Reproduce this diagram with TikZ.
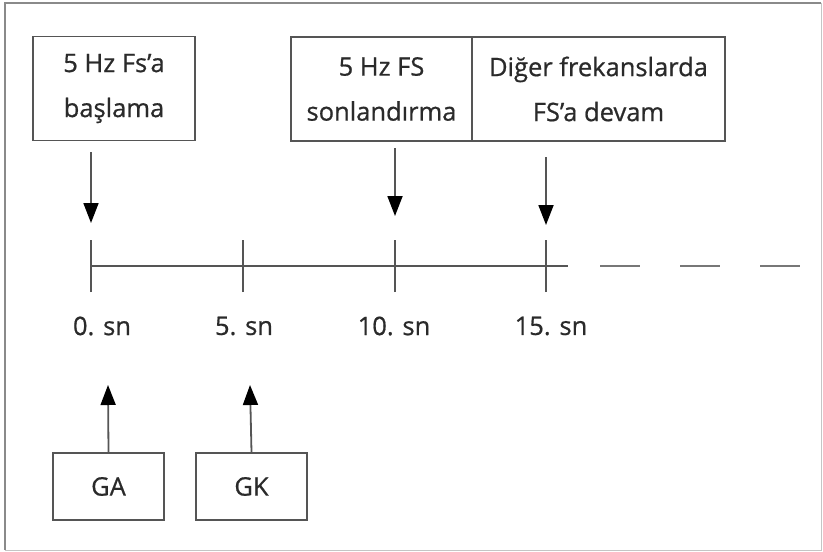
\documentclass[tikz,border=0pt]{standalone}
\usepackage{fontspec}
\setmainfont{Open Sans}[FakeBold=0.7]
\usetikzlibrary{arrows.meta}
\definecolor{linegray}{HTML}{555555}
\definecolor{framegray}{HTML}{8A8A8A}
\definecolor{inkgray}{HTML}{2A2A2A}
\tikzset{
  labelbox/.style={draw=linegray, line width=1.6pt, minimum height=104pt, inner sep=0pt, align=center, font=\fontsize{25.5}{45}\selectfont, text=inkgray},
  smallbox/.style={draw=linegray, line width=1.6pt, minimum width=111pt, minimum height=67pt, inner sep=0pt, font=\fontsize{25.5}{28}\selectfont, text=inkgray},
  ticklabel/.style={font=\fontsize{25.5}{28}\selectfont, text=inkgray, inner sep=0pt},
  pointer/.style={draw=linegray, line width=1.8pt, -{Triangle[width=15pt,length=20pt,color=black]}},
  axis/.style={draw=linegray, line width=1.6pt},
  tickmark/.style={draw=linegray, line width=1.6pt},
  future/.style={draw=linegray!80, line width=1.6pt, dash pattern=on 40pt off 40pt}
}
\begin{document}
\begin{tikzpicture}[x=1pt, y=-1pt]
  \useasboundingbox (0,0) rectangle (823,552);
  % outer frame
  \draw[framegray!50, line width=1pt] (821,2.5) -- (821,550) -- (4.5,550);
  \draw[framegray, line width=2pt] (4.5,550) -- (4.5,2.5) -- (821,2.5);

  % event boxes on top
  \node[labelbox, minimum width=162pt] (start) at (114,88.5) {5 Hz Fs’a\\başlama};
  \node[labelbox, minimum width=181pt] (stop) at (381.5,89) {5 Hz FS\\sonlandırma};
  \node[labelbox, minimum width=253pt] (cont) at (598.5,89) {Diğer frekanslarda\\FS’a devam};

  % time axis
  \coordinate (t0) at (91,266);
  \coordinate (t5) at (243,266);
  \coordinate (t10) at (395,266);
  \coordinate (t15) at (546,266);
  \coordinate (tend) at (568,266);
  \draw[axis] (t0) -- (tend);
  \draw[future] (600,266) -- (800,266);
  \foreach \t in {t0,t5,t10,t15}
    \draw[tickmark] ([yshift=-26pt]\t) -- ([yshift=26pt]\t);

  % tick labels
  \node[ticklabel] (l0) at (102,326) {0. sn};
  \node[ticklabel] (l5) at (244,326) {5. sn};
  \node[ticklabel] (l10) at (394,326) {10. sn};
  \node[ticklabel] (l15) at (551,326) {15. sn};

  % downward pointers to the axis
  \coordinate (a0s) at (91,152);  \coordinate (a0e) at (91,223);
  \coordinate (a10s) at (395,148); \coordinate (a10e) at (395,216);
  \coordinate (a15s) at (546,157); \coordinate (a15e) at (546,225);
  \draw[pointer] (a0s) -- (a0e);
  \draw[pointer] (a10s) -- (a10e);
  \draw[pointer] (a15s) -- (a15e);

  % bottom boxes with upward pointers
  \node[smallbox] (ga) at (108.5,486.5) {GA};
  \node[smallbox] (gk) at (251.5,486.5) {GK};
  \coordinate (gaTip) at (108,385);
  \coordinate (gkTip) at (250,385);
  \draw[pointer] (ga.north) -- (gaTip);
  \draw[pointer] (gk.north) -- (gkTip);
\end{tikzpicture}
\end{document}
